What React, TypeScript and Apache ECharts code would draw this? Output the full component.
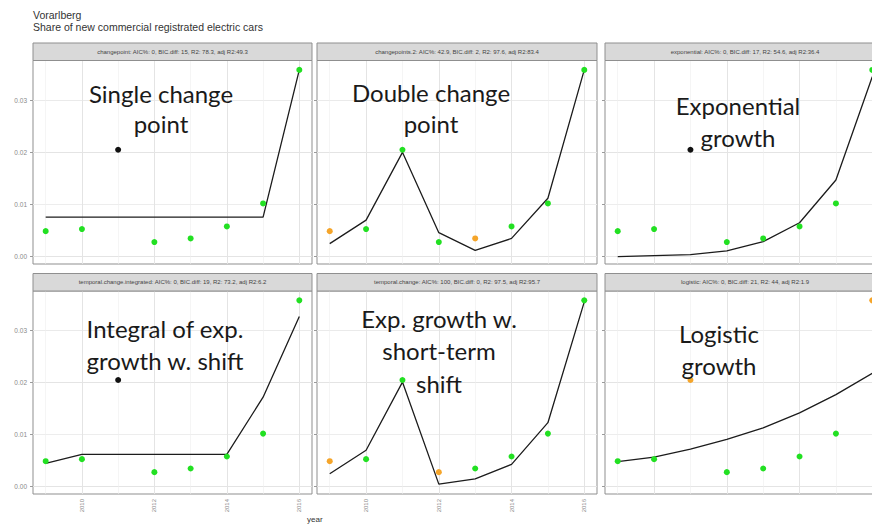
import React, { useEffect, useRef } from "react";
import * as echarts from "echarts";

// ---------- data ----------
const years = [2009, 2010, 2011, 2012, 2013, 2014, 2015, 2016];
const share = [0.0049, 0.0053, 0.0205, 0.0028, 0.0035, 0.0058, 0.0102, 0.0358];

const fitChangepoint = [0.0076, 0.0076, 0.0076, 0.0076, 0.0076, 0.0076, 0.0076, 0.0358];
const fitChangepoints2 = [0.0025, 0.007, 0.02, 0.0046, 0.0012, 0.0035, 0.0112, 0.0358];
const fitExponential = [0.0, 0.0002, 0.0004, 0.0011, 0.0029, 0.0065, 0.0147, 0.0345];
const fitTemporalIntegrated = [0.0045, 0.0062, 0.0062, 0.0062, 0.0062, 0.0062, 0.0172, 0.0327];
const fitTemporal = [0.0025, 0.007, 0.0201, 0.0005, 0.0015, 0.0043, 0.0123, 0.0355];
const fitLogistic = [0.0048, 0.0057, 0.0072, 0.0091, 0.0113, 0.0142, 0.0177, 0.0218];

// point classes: g = green, o = orange, k = black
const ptsChangepoint = ["g", "g", "k", "g", "g", "g", "g", "g"];
const ptsChangepoints2 = ["o", "g", "g", "g", "o", "g", "g", "g"];
const ptsExponential = ["g", "g", "k", "g", "g", "g", "g", "g"];
const ptsTemporalIntegrated = ["g", "g", "k", "g", "g", "g", "g", "g"];
const ptsTemporal = ["o", "g", "g", "o", "g", "g", "g", "g"];
const ptsLogistic = ["g", "g", "o", "g", "g", "g", "g", "o"];

const stripLabels = [
  "changepoint: AIC%: 0, BIC.diff: 15, R2: 78.3, adj R2:49.3",
  "changepoints.2: AIC%: 42.9, BIC.diff: 2, R2: 97.6, adj R2:83.4",
  "exponential: AIC%: 0, BIC.diff: 17, R2: 54.6, adj R2:36.4",
  "temporal.change.integrated: AIC%: 0, BIC.diff: 19, R2: 73.2, adj R2:6.2",
  "temporal.change: AIC%: 100, BIC.diff: 0, R2: 97.5, adj R2:95.7",
  "logistic: AIC%: 0, BIC.diff: 21, R2: 44, adj R2:1.9",
];

const annotations = [
  ["Single change", "point"],
  ["Double change", "point"],
  ["Exponential", "growth"],
  ["Integral of exp.", "growth w. shift"],
  ["Exp. growth w.", "short-term", "shift"],
  ["Logistic", "growth"],
];

const yTicks = [0, 0.01, 0.02, 0.03];
const yMinor = [0.005, 0.015, 0.025, 0.035];
const xTicks = [2010, 2012, 2014, 2016];
const xMinor = [2009, 2011, 2013, 2015];

const titleText = "Vorarlberg";
const subtitleText = "Share of new commercial registrated electric cars";
const xAxisTitle = "year";

// ---------- layout / style ----------
const fits = [fitChangepoint, fitChangepoints2, fitExponential, fitTemporalIntegrated, fitTemporal, fitLogistic];
const pts = [ptsChangepoint, ptsChangepoints2, ptsExponential, ptsTemporalIntegrated, ptsTemporal, ptsLogistic];
const colLeft = [33, 317, 605];
const colWidth = [279, 280, 280];
const rowTop = [60.5, 291];
const rowHeight = [203.5, 203];
const stripH = 17.5;
const annoPos = [
  { x: 161, ys: [93, 123] },
  { x: 431, ys: [92, 123] },
  { x: 738, ys: [105, 137] },
  { x: 165, ys: [328, 360] },
  { x: 439, ys: [318, 350, 383] },
  { x: 719, ys: [333, 365] },
];
const ptColor: Record<string, string> = { g: "#22e022", o: "#f5a52a", k: "#111111" };
const SMALL_FONT = "'Liberation Sans', Arial, sans-serif";

export default function App() {
  const ref = useRef<HTMLDivElement>(null);
  useEffect(() => {
    const chart = echarts.init(ref.current!, null, { renderer: "svg" });
    const grids: any[] = [];
    const xAxes: any[] = [];
    const yAxes: any[] = [];
    const series: any[] = [];
    const graphics: any[] = [];

    for (let i = 0; i < 6; i++) {
      const row = Math.floor(i / 3);
      const col = i % 3;
      const left = colLeft[col];
      const top = rowTop[row];
      const width = colWidth[col];
      const height = rowHeight[row];
      const showX = row === 1 && col < 2;
      grids.push({
        left,
        top,
        width,
        height,
        show: true,
        borderColor: "#8f8f8f",
        borderWidth: 1,
        backgroundColor: "#ffffff",
        containLabel: false,
        outerBoundsMode: "none",
      });
      xAxes.push({
        type: "value",
        gridIndex: i,
        min: 2008.65,
        max: 2016.35,
        axisLine: { show: false },
        splitLine: { show: false },
        axisTick: {
          show: showX,
          customValues: xTicks,
          length: 3,
          lineStyle: { color: "#9a9a9a" },
        },
        axisLabel: {
          show: showX,
          customValues: xTicks,
          rotate: 90,
          fontSize: 6,
          color: "#8a8a8a",
          fontFamily: SMALL_FONT,
          margin: 5,
          formatter: (v: number) => String(v),
        },
      });
      yAxes.push({
        type: "value",
        gridIndex: i,
        min: -0.0014,
        max: 0.0376,
        axisLine: { show: false },
        splitLine: { show: false },
        axisTick: {
          show: true,
          customValues: yTicks,
          length: 3,
          lineStyle: { color: "#9a9a9a" },
        },
        axisLabel: {
          show: col === 0,
          customValues: yTicks,
          fontSize: 6.5,
          color: "#8a8a8a",
          fontFamily: SMALL_FONT,
          margin: 6,
          formatter: (v: number) => v.toFixed(2),
        },
      });
      // grid lines through the axes' scales
      const gl = (v: number, dim: "xAxis" | "yAxis", major: boolean) => ({
        [dim]: v,
        lineStyle: { color: major ? "#e4e4e4" : "#efefef", width: major ? 1 : 0.6, type: "solid" },
      });
      series.push({
        type: "line",
        xAxisIndex: i,
        yAxisIndex: i,
        data: [],
        z: 1,
        silent: true,
        markLine: {
          silent: true,
          z: 1,
          symbol: ["none", "none"],
          label: { show: false },
          animation: false,
          data: [
            ...yTicks.map((v) => gl(v, "yAxis", true)),
            ...yMinor.map((v) => gl(v, "yAxis", false)),
            ...xTicks.map((v) => gl(v, "xAxis", true)),
            ...xMinor.map((v) => gl(v, "xAxis", false)),
          ],
        },
      });
      series.push({
        type: "line",
        xAxisIndex: i,
        yAxisIndex: i,
        data: years.map((y, j) => [y, fits[i][j]]),
        symbol: "none",
        lineStyle: { color: "#1c1c1c", width: 1.3 },
        z: 3,
        silent: true,
      });
      series.push({
        type: "scatter",
        xAxisIndex: i,
        yAxisIndex: i,
        symbol: "circle",
        symbolSize: 6,
        z: 4,
        itemStyle: { opacity: 1, borderWidth: 0 },
        data: years.map((y, j) => ({
          value: [y, share[j]],
          itemStyle: { color: ptColor[pts[i][j]], opacity: 1, borderWidth: 0 },
        })),
      });
      // strip
      graphics.push({
        type: "rect",
        shape: { x: left, y: top - stripH, width, height: stripH },
        style: { fill: "#d9d9d9", stroke: "#8f8f8f", lineWidth: 1 },
        z: 10,
      });
      graphics.push({
        type: "text",
        x: left + width / 2,
        y: top - stripH / 2,
        style: {
          text: stripLabels[i],
          fill: "#444444",
          fontSize: 6,
          fontFamily: SMALL_FONT,
          textAlign: "center",
          textVerticalAlign: "middle",
          align: "center",
          verticalAlign: "middle",
        },
        z: 11,
      });
      // annotations
      annotations[i].forEach((line, k) => {
        graphics.push({
          type: "text",
          x: annoPos[i].x,
          y: annoPos[i].ys[k],
          style: {
            text: line,
            fill: "#1a1a1a",
            fontSize: 24,
            fontFamily: "Lato, 'Open Sans', sans-serif",
            textAlign: "center",
            textVerticalAlign: "middle",
            align: "center",
            verticalAlign: "middle",
          },
          z: 12,
        });
      });
    }

    graphics.push({
      type: "text",
      x: 307,
      y: 519,
      style: {
        text: xAxisTitle,
        fill: "#333333",
        fontSize: 8,
        fontFamily: SMALL_FONT,
        textAlign: "left",
        textVerticalAlign: "middle",
        align: "left",
        verticalAlign: "middle",
      },
      z: 12,
    });

    chart.setOption({
      animation: false,
      backgroundColor: "#ffffff",
      title: {
        text: titleText,
        subtext: subtitleText,
        left: 30,
        top: 7,
        itemGap: 1,
        padding: [2, 3],
        textStyle: { fontSize: 10.5, fontWeight: "normal", color: "#333333", fontFamily: SMALL_FONT },
        subtextStyle: { fontSize: 10.5, color: "#333333", fontFamily: SMALL_FONT },
      },
      grid: grids,
      xAxis: xAxes,
      yAxis: yAxes,
      series,
      graphic: graphics,
    });
    return () => chart.dispose();
  }, []);
  return (
    <div
      ref={ref}
      style={{ position: "fixed", left: 0, top: 0, width: 872, height: 528, background: "#fff" }}
    />
  );
}
